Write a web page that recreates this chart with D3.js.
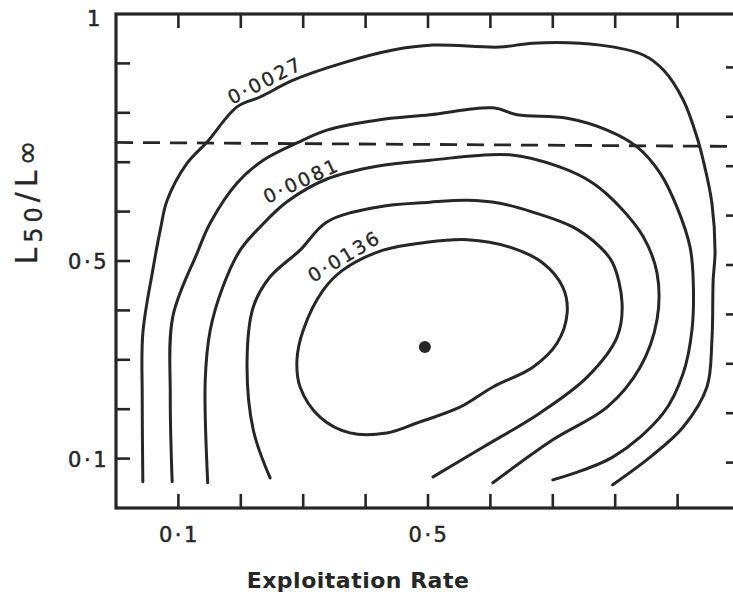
<!DOCTYPE html>
<html>
<head>
<meta charset="utf-8">
<script src="https://cdn.jsdelivr.net/npm/d3@7"></script>
<style>
  html, body { margin: 0; padding: 0; background: #fff; }
  svg { display: block; }
  text { font-family: "DejaVu Sans", sans-serif; fill: #262626; }
</style>
</head>
<body>
<svg id="chart" width="733" height="601"></svg>
<script>
// ---------- data (x = exploitation rate, y = L50/L∞) ----------
const contourLevels = ["0·0027", "0·0054", "0·0081", "0·0108", "0·0136"];

const contour0027 = [
  [0.043,0.053],[0.042,0.225],[0.043,0.354],[0.059,0.482],[0.071,0.563],[0.082,0.623],
  [0.114,0.698],[0.146,0.741],[0.194,0.812],[0.231,0.832],[0.284,0.866],[0.364,0.901],
  [0.444,0.927],[0.508,0.937],[0.615,0.933],[0.668,0.941],[0.776,0.937],[0.845,0.917],
  [0.877,0.887],[0.909,0.826],[0.931,0.751],[0.941,0.704],[0.955,0.617],[0.960,0.516],
  [0.957,0.462],[0.955,0.340],[0.947,0.245],[0.909,0.164],[0.856,0.103],[0.796,0.047]
];
const contour0054 = [
  [0.090,0.053],[0.087,0.225],[0.091,0.387],[0.130,0.516],[0.151,0.577],[0.194,0.658],
  [0.236,0.704],[0.290,0.739],[0.338,0.765],[0.418,0.785],[0.503,0.796],[0.604,0.810],
  [0.643,0.796],[0.723,0.789],[0.787,0.765],[0.835,0.731],[0.872,0.678],[0.899,0.609],
  [0.920,0.528],[0.925,0.462],[0.923,0.360],[0.909,0.273],[0.877,0.192],[0.796,0.103],
  [0.700,0.057]
];
const contour0081 = [
  [0.147,0.051],[0.143,0.259],[0.151,0.360],[0.171,0.447],[0.199,0.522],[0.231,0.569],
  [0.274,0.620],[0.338,0.666],[0.418,0.692],[0.503,0.704],[0.631,0.715],[0.712,0.690],
  [0.764,0.658],[0.808,0.609],[0.845,0.549],[0.867,0.476],[0.867,0.381],[0.840,0.285],
  [0.787,0.204],[0.700,0.138],[0.604,0.051]
];
const contour0108 = [
  [0.247,0.061],[0.220,0.158],[0.210,0.294],[0.220,0.407],[0.247,0.468],[0.295,0.522],
  [0.338,0.579],[0.418,0.609],[0.503,0.619],[0.563,0.623],[0.615,0.617],[0.668,0.599],
  [0.732,0.569],[0.776,0.528],[0.796,0.496],[0.811,0.415],[0.803,0.346],[0.755,0.265],
  [0.679,0.192],[0.588,0.123],[0.508,0.063]
];
const contour0136 = [
  [0.300,0.360],[0.332,0.441],[0.364,0.482],[0.428,0.522],[0.498,0.538],[0.563,0.543],
  [0.631,0.528],[0.684,0.496],[0.716,0.447],[0.723,0.395],[0.707,0.334],[0.668,0.285],
  [0.604,0.245],[0.551,0.204],[0.482,0.172],[0.434,0.152],[0.375,0.152],[0.327,0.184],
  [0.295,0.245],[0.290,0.300]
];
const optimum = [0.495, 0.326];          // maximum yield point
const referenceL50 = 0.74;                // dashed line
const xTickValues = [0.1,0.2,0.3,0.4,0.5,0.6,0.7,0.8,0.9];
const yTickValues = [0.1,0.2,0.3,0.4,0.5,0.6,0.7,0.8,0.9];
const xTickLabels = [0.1, 0.5];
const yTickLabels = [0.1, 0.5, 1];
const labeledContours = ["0·0027", "0·0081", "0·0136"];

// ---------- drawing ----------
const svg = d3.select("#chart");
const x = d3.scaleLinear().domain([0, 1]).range([116, 740]);
const y = d3.scaleLinear().domain([0, 1]).range([508, 14]);
const ink = "#262626";
const fmt = v => v === 1 ? "1" : d3.format(".1f")(v).replace(".", "·");

// frame
svg.append("rect")
  .attr("x", x(0)).attr("y", y(1))
  .attr("width", x(1) - x(0)).attr("height", y(0) - y(1))
  .attr("fill", "none").attr("stroke", ink).attr("stroke-width", 3.2);

// inward ticks on all four sides
const tk = 14;
const tg = svg.append("g").attr("stroke", ink).attr("stroke-width", 2.6);
xTickValues.forEach(v => {
  tg.append("line").attr("x1", x(v)).attr("x2", x(v)).attr("y1", y(0)).attr("y2", y(0) - tk);
  tg.append("line").attr("x1", x(v)).attr("x2", x(v)).attr("y1", y(1)).attr("y2", y(1) + tk);
});
yTickValues.forEach(v => {
  tg.append("line").attr("y1", y(v)).attr("y2", y(v)).attr("x1", x(0)).attr("x2", x(0) + tk);
  tg.append("line").attr("y1", y(v) + 4).attr("y2", y(v) + 4).attr("x1", x(1)).attr("x2", x(1) - tk);
});

// tick labels
svg.selectAll(".xl").data(xTickLabels).enter().append("text")
  .attr("x", d => x(d) + 1).attr("y", 542)
  .attr("text-anchor", "middle").attr("font-size", 21).attr("letter-spacing", 2.5)
  .attr("stroke", ink).attr("stroke-width", 0.5)
  .text(fmt);
svg.selectAll(".yl").data(yTickLabels).enter().append("text")
  .attr("x", d => d === 1 ? 95 : 109).attr("y", d => d === 1 ? 26 : y(d) + 8)
  .attr("text-anchor", d => d === 1 ? "middle" : "end")
  .attr("font-size", 21).attr("letter-spacing", 2.5)
  .attr("stroke", ink).attr("stroke-width", 0.5)
  .text(fmt);

// axis titles
svg.append("text")
  .attr("x", 358).attr("y", 588)
  .attr("text-anchor", "middle").attr("font-size", 22).attr("font-weight", "bold")
  .attr("letter-spacing", 0.5)
  .text("Exploitation Rate");

const yt = svg.append("text")
  .attr("transform", "translate(37,200) rotate(-90)")
  .attr("text-anchor", "middle").attr("font-size", 30).attr("letter-spacing", 5)
  .attr("stroke", ink).attr("stroke-width", 0.3);
yt.append("tspan").text("L");
yt.append("tspan").attr("font-size", 24).attr("dy", 5).text("50");
yt.append("tspan").attr("dy", -5).text("/L∞");

// dashed reference line
svg.append("line")
  .attr("x1", x(0)).attr("x2", x(1)).attr("y1", y(referenceL50)).attr("y2", y(referenceL50) + 4)
  .attr("stroke", ink).attr("stroke-width", 2.8).attr("stroke-dasharray", "17 10");

// contours
const line = d3.line().x(d => x(d[0])).y(d => y(d[1])).curve(d3.curveCatmullRom.alpha(0.5));
const closed = d3.line().x(d => x(d[0])).y(d => y(d[1])).curve(d3.curveCatmullRomClosed.alpha(0.5));
const openContours = [contour0027, contour0054, contour0081, contour0108];
svg.append("g").selectAll("path").data(openContours).enter().append("path")
  .attr("d", line).attr("fill", "none").attr("stroke", ink)
  .attr("stroke-width", 3).attr("stroke-linecap", "round");
svg.append("path").datum(contour0136).attr("d", closed)
  .attr("fill", "none").attr("stroke", ink).attr("stroke-width", 3);

// contour labels (placed along their lines)
const labelPlace = { "0·0027": [0.239, 0.866, -27], "0·0081": [0.297, 0.663, -25], "0·0136": [0.366, 0.510, -31] };
svg.selectAll(".cl").data(labeledContours).enter().append("text")
  .attr("transform", d => `translate(${x(labelPlace[d][0])},${y(labelPlace[d][1])}) rotate(${labelPlace[d][2]})`)
  .attr("text-anchor", "middle").attr("dy", "0.36em")
  .attr("font-size", 19).attr("letter-spacing", 2.5)
  .attr("stroke", ink).attr("stroke-width", 0.35)
  .text(d => d);

// optimum point
svg.append("circle").attr("cx", x(optimum[0])).attr("cy", y(optimum[1])).attr("r", 6).attr("fill", ink);
</script>
</body>
</html>
